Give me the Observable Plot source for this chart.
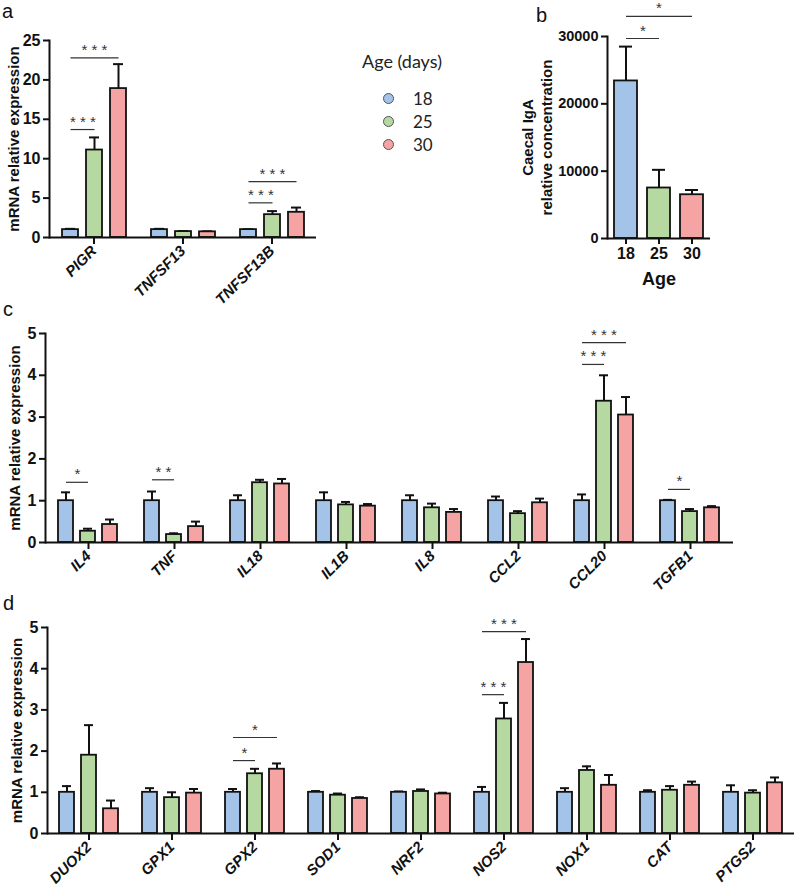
<!DOCTYPE html>
<html><head><meta charset="utf-8">
<script src="https://cdn.jsdelivr.net/npm/d3@7"></script>
<script src="https://cdn.jsdelivr.net/npm/@observablehq/plot@0.6"></script>
<style>
body{margin:0;background:#fff;}
#root{position:relative;width:800px;height:892px;overflow:hidden;font-family:"Liberation Sans",Arial,sans-serif;color:#111;}
.panel{position:absolute;}
.panel svg{overflow:visible;font-family:"Liberation Sans",Arial,sans-serif !important;}
.panel svg text{font-family:"Liberation Sans",Arial,sans-serif;}
.plabel{position:absolute;font-family:"Liberation Sans",Arial,sans-serif;font-size:20px;line-height:23px;color:#111;}
.legend{position:absolute;left:362px;top:50px;font-family:Lato,"Open Sans",sans-serif;color:#222;}
.legend .title{font-size:18px;margin-bottom:15px;}
.legend .row{display:flex;align-items:center;height:23px;font-size:17px;padding-left:21px;}
.legend .sw{width:9px;height:9px;border-radius:50%;border:1px solid #555;margin-right:19px;}
</style>
</head><body>
<div id="root"></div>
<script>
// ---------- data ----------
const ages = ["18", "25", "30"];
const ageColors = ["#a3c4e8", "#b5d9a0", "#f5a3a3"];

// panel a
const genesA = ["PIGR", "TNFSF13", "TNFSF13B"];
const meanA = [[1.0, 11.1, 18.9], [1.0, 0.75, 0.72], [1.0, 2.9, 3.2]];
const topA  = [[1.1, 12.7, 22.0], [1.1, 0.82, 0.78], [1.05, 3.35, 3.8]];
const sigA = [["PIGR", "18", "25", 13.7, "* * *"], ["PIGR", "18", "30", 22.8, "* * *"],
              ["TNFSF13B", "18", "25", 4.4, "* * *"], ["TNFSF13B", "18", "30", 7.1, "* * *"]];
const ticksA = [0, 5, 10, 15, 20, 25];

// panel b
const meanB = [23400, 7500, 6500];
const topB  = [28500, 10200, 7200];
const sigB = [["18", "25", 29700, "*"], ["18", "30", 33000, "*"]];
const ticksB = [0, 10000, 20000, 30000];

// panel c
const genesC = ["IL4", "TNF", "IL18", "IL1B", "IL8", "CCL2", "CCL20", "TGFB1"];
const meanC = [[1.0, 0.27, 0.43], [1.0, 0.19, 0.38], [1.0, 1.43, 1.4], [1.0, 0.9, 0.87],
               [1.0, 0.83, 0.72], [1.0, 0.69, 0.95], [1.0, 3.38, 3.05], [1.0, 0.74, 0.83]];
const topC  = [[1.2, 0.33, 0.55], [1.22, 0.22, 0.5], [1.13, 1.5, 1.52], [1.2, 0.97, 0.92],
               [1.13, 0.93, 0.8], [1.1, 0.75, 1.05], [1.15, 4.0, 3.48], [1.02, 0.8, 0.87]];
const sigC = [["IL4", "18", "25", 1.44, "*"], ["TNF", "18", "25", 1.5, "* *"],
              ["CCL20", "18", "25", 4.26, "* * *"], ["CCL20", "18", "30", 4.78, "* * *"],
              ["TGFB1", "18", "25", 1.27, "*"]];

// panel d
const genesD = ["DUOX2", "GPX1", "GPX2", "SOD1", "NRF2", "NOS2", "NOX1", "CAT", "PTGS2"];
const meanD = [[1.0, 1.9, 0.6], [1.0, 0.87, 0.98], [1.0, 1.45, 1.56], [1.0, 0.93, 0.85],
               [1.0, 1.02, 0.96], [1.0, 2.78, 4.15], [1.0, 1.53, 1.17], [1.0, 1.05, 1.17], [1.0, 0.98, 1.23]];
const topD  = [[1.15, 2.63, 0.8], [1.1, 1.0, 1.08], [1.08, 1.57, 1.7], [1.03, 0.97, 0.88],
               [1.02, 1.07, 0.99], [1.13, 3.17, 4.72], [1.1, 1.63, 1.42], [1.05, 1.15, 1.26], [1.17, 1.05, 1.36]];
const sigD = [["GPX2", "18", "25", 1.77, "*"], ["GPX2", "18", "30", 2.33, "*"],
              ["NOS2", "18", "25", 3.37, "* * *"], ["NOS2", "18", "30", 4.9, "* * *"]];
const ticks05 = [0, 1, 2, 3, 4, 5];

const yTitle = "mRNA relative expression";
const yTitleB = "Caecal IgA\nrelative concentration";

// ---------- helpers ----------
const root = document.getElementById("root");
function place(id, left, top, node) {
  const d = document.createElement("div");
  d.className = "panel"; d.id = id;
  d.style.left = left + "px"; d.style.top = top + "px";
  d.appendChild(node); root.appendChild(d);
}
const FONT = "Liberation Sans, Arial, sans-serif";
const baseStyle = {fontFamily: FONT, fontSize: "13px", color: "#111", background: "transparent", overflow: "visible"};
const sigText = {lineAnchor: "bottom", dy: -3, fontSize: 15, fill: "#333", fontFamily: FONT};

function grouped(cfg) {
  const {genes, means, tops, sig, yMax, yTicks, halfStep, labelDx} = cfg;
  const rows = genes.flatMap((g, i) => ages.map((a, j) => ({gene: g, age: a, mean: means[i][j], top: tops[i][j]})));
  const sigRows = sig.map(([gene, a1, a2, y, label]) => ({gene, a1, a2, y, label}));
  const mid = (d) => ages[(ages.indexOf(d.a1) + ages.indexOf(d.a2)) / 2];
  return Plot.plot({
    width: cfg.width, height: cfg.height,
    marginLeft: cfg.marginLeft, marginRight: cfg.marginRight,
    marginTop: cfg.marginTop, marginBottom: cfg.marginBottom,
    style: baseStyle,
    fx: {domain: genes, padding: 0},
    x: {domain: ages, paddingInner: cfg.pi, paddingOuter: cfg.po, axis: null},
    y: {domain: [0, yMax]},
    color: {domain: ages, range: ageColors},
    marks: [
      Plot.axisY(yTicks, {tickFormat: "d", tickSize: 6, tickPadding: 3, fontSize: 16, fontWeight: "bold", fontFamily: FONT, label: null, stroke: "#111", strokeWidth: 2, fill: "#111"}),
      Plot.axisFx({anchor: "bottom", tickRotate: -45, tickSize: 7, tickPadding: 4, fontSize: 15, fontWeight: "bold", fontStyle: "italic", fontFamily: FONT, label: null, stroke: "#111", strokeWidth: 2, fill: "#111"}),
      Plot.frame({anchor: "left", facetAnchor: "left", stroke: "#111", strokeWidth: 2}),
      Plot.ruleX(rows, {fx: "gene", x: "age", y1: "mean", y2: "top", stroke: "#111", strokeWidth: 2}),
      Plot.tickY(rows, {fx: "gene", x: "age", y: "top", stroke: "#111", strokeWidth: 2, insetLeft: 3, insetRight: 3}),
      Plot.barY(rows, {fx: "gene", x: "age", y: "mean", fill: "age", stroke: "#111", strokeWidth: 1.8}),
      Plot.ruleY([0], {stroke: "#111", strokeWidth: 2}),
      Plot.link(sigRows, {fx: "gene", x1: "a1", x2: "a2", y1: "y", y2: "y", stroke: "#333", strokeWidth: 1.2}),
      Plot.text(sigRows.filter((d) => (ages.indexOf(d.a2) - ages.indexOf(d.a1)) % 2 === 1),
        {fx: "gene", x: "a1", dx: halfStep, y: "y", text: "label", ...sigText}),
      Plot.text(sigRows.filter((d) => (ages.indexOf(d.a2) - ages.indexOf(d.a1)) % 2 === 0),
        {fx: "gene", x: mid, y: "y", text: "label", ...sigText}),
      Plot.text([{gene: genes[0], t: yTitle}], {fx: "gene", text: "t", frameAnchor: "left", textAnchor: "middle", lineAnchor: "middle", rotate: -90, dx: labelDx, fontSize: 15, fontWeight: "bold", fontFamily: FONT, fill: "#111"})
    ]
  });
}

// ---------- panel a ----------
place("pa", 0, 0, grouped({
  genes: genesA, means: meanA, tops: topA, sig: sigA, yMax: 25, yTicks: ticksA,
  width: 320, height: 300, marginLeft: 48, marginRight: 4, marginTop: 40, marginBottom: 63,
  pi: 0.347, po: 0.48, halfStep: 12.3, labelDx: -35
}));

// ---------- panel b ----------
{
  const rows = ages.map((a, j) => ({age: a, mean: meanB[j], top: topB[j]}));
  const sigRows = sigB.map(([a1, a2, y, label]) => ({a1, a2, y, label}));
  const mid = (d) => ages[(ages.indexOf(d.a1) + ages.indexOf(d.a2)) / 2];
  const pb = Plot.plot({
    width: 200, height: 290, marginLeft: 87, marginRight: 10, marginTop: 36, marginBottom: 52,
    style: baseStyle,
    x: {domain: ages, paddingInner: 0.317, paddingOuter: 0.19},
    y: {domain: [0, 30000]},
    color: {domain: ages, range: ageColors},
    marks: [
      Plot.axisY(ticksB, {tickFormat: "d", tickSize: 6, tickPadding: 3, fontSize: 14.5, fontWeight: "bold", fontFamily: FONT, label: null, stroke: "#111", strokeWidth: 2, fill: "#111"}),
      Plot.axisX({tickSize: 6, tickPadding: 3, fontSize: 16, fontWeight: "bold", fontFamily: FONT, label: null, stroke: "#111", strokeWidth: 2, fill: "#111"}),
      Plot.text(["Age"], {text: (d) => d, frameAnchor: "bottom", dy: 46, fontSize: 18, fontWeight: "bold", fontFamily: FONT, fill: "#111"}),
      Plot.frame({anchor: "left", stroke: "#111", strokeWidth: 2}),
      Plot.ruleX(rows, {x: "age", y1: "mean", y2: "top", stroke: "#111", strokeWidth: 2}),
      Plot.tickY(rows, {x: "age", y: "top", stroke: "#111", strokeWidth: 2, insetLeft: 5, insetRight: 5}),
      Plot.barY(rows, {x: "age", y: "mean", fill: "age", stroke: "#111", strokeWidth: 1.8}),
      Plot.ruleY([0], {stroke: "#111", strokeWidth: 2}),
      Plot.link(sigRows, {x1: "a1", x2: "a2", y1: "y", y2: "y", stroke: "#333", strokeWidth: 1.2}),
      Plot.text(sigRows.filter((d) => d.a2 === "25"), {x: "a1", dx: 17, y: "y", text: "label", ...sigText}),
      Plot.text(sigRows.filter((d) => d.a2 === "30"), {x: mid, y: "y", text: "label", ...sigText}),
      Plot.text([yTitleB], {text: (d) => d, frameAnchor: "left", textAnchor: "middle", lineAnchor: "middle", rotate: -90, dx: -71, fontSize: 15, fontWeight: "bold", fontFamily: FONT, lineHeight: 1.25, fill: "#111"})
    ]
  });
  place("pb", 520, 0, pb);
}

// ---------- panel c ----------
place("pc", 0, 300, grouped({
  genes: genesC, means: meanC, tops: topC, sig: sigC, yMax: 5, yTicks: ticks05,
  width: 740, height: 290, marginLeft: 45, marginRight: 7, marginTop: 33, marginBottom: 48,
  pi: 0.304, po: 0.522, halfStep: 11.5, labelDx: -30
}));

// ---------- panel d ----------
place("pd", 0, 590, grouped({
  genes: genesD, means: meanD, tops: topD, sig: sigD, yMax: 5, yTicks: ticks05,
  width: 800, height: 302, marginLeft: 45, marginRight: 4, marginTop: 37, marginBottom: 59,
  pi: 0.30, po: 0.46, halfStep: 11.5, labelDx: -30
}));

// ---------- panel letters ----------
[["a", 2, 0], ["b", 536, 4], ["c", 3, 298], ["d", 3, 592]].forEach(([t, x, y]) => {
  const s = document.createElement("div");
  s.className = "plabel"; s.textContent = t;
  s.style.left = x + "px"; s.style.top = y + "px";
  root.appendChild(s);
});

// ---------- legend ----------
const lg = document.createElement("div");
lg.className = "legend";
lg.innerHTML = `<div class="title">Age (days)</div>` +
  ages.map((a, i) => `<div class="row"><span class="sw" style="background:${ageColors[i]}"></span><span>${a}</span></div>`).join("");
root.appendChild(lg);
</script>
</body></html>
